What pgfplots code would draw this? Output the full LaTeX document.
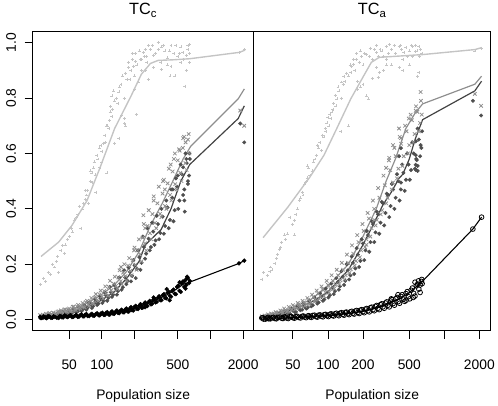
\documentclass[border=0pt]{standalone}
\usepackage{fontspec}
\setmainfont{Liberation Sans}
\usepackage{pgfplots}
\pgfplotsset{compat=1.18}

\definecolor{lgray}{HTML}{C4C4C4}
\definecolor{mgray}{HTML}{8E8E8E}
\definecolor{dgray}{HTML}{4E4E4E}

\pgfplotsset{
  popframe/.style={
    axis line style={line width=1.4pt},
    tick style={line width=0.9pt, black},
    tick align=outside, major tick length=8pt,
    xtick pos=bottom, ytick pos=left,
    xminorticks=false, yminorticks=false,
    xtick={50,100,200,500,1000,2000},
    ticklabel style={font=\fontsize{14}{16}\selectfont},
    xticklabel style={anchor=base, yshift=-31pt},
    xlabel={Population size},
    xlabel style={font=\fontsize{14}{16}\selectfont, anchor=base,
      at={(axis description cs:0.5,0)}, yshift=-70pt},
    title style={font=\fontsize{16.5}{18}\selectfont, anchor=base,
      at={(axis description cs:0.5,1)}, yshift=11pt},
  },
  lpts/.style={only marks, mark=+, mark size=1.5pt, lgray, mark options={line width=0.5pt}},
  lline/.style={no marks, lgray, line width=1.4pt},
  mpts/.style={only marks, mark=x, mark size=2.5pt, mgray, mark options={line width=0.8pt}},
  mline/.style={no marks, mgray, line width=1.2pt},
  dpts/.style={only marks, mark=*, mark size=1.8pt, dgray},
  dline/.style={no marks, dgray!85!black, line width=1.2pt},
  bpts/.style={only marks, mark=*, mark size=2pt, black},
  bopen/.style={only marks, mark=o, mark size=2.4pt, black, mark options={line width=0.8pt}},
  bline/.style={no marks, black, line width=1.1pt},
}

\begin{document}
\begin{tikzpicture}
\path (0,0) rectangle (498pt,405pt);

% ---------------- left panel: TC_c ----------------
\begin{axis}[xmode=log, xmin=23, xmax=2500, ymin=-0.04, ymax=1.04,
  scale only axis, anchor=south west, at={(33pt,70pt)}, width=224pt, height=303pt,
  popframe,
  title={TC\textsubscript{c}},
  ytick={0,0.2,0.4,0.6,0.8,1.0},
  yticklabels={0.0,0.2,0.4,0.6,0.8,1.0},
  yticklabel style={rotate=90, anchor=base, yshift=9pt},
  xticklabels={50,100,{},500,{},2000}]

\addplot[lpts] coordinates {
(27.3,.128)(30.3,.139)(33.7,.164)(36.6,.19)(39,.228)(43.3,.267)(46.1,.27)(50.1,.30)(53.4,.317)(55.6,.36)
(65.8,.40)(70,.434)(73,.466)(70,.466)(81.1,.495)(77.8,.537)(86.4,.523)(111,.53)(81,.53)(84,.548)
(90,.594)(100,.608)(104,.637)(106.5,.666)(115.8,.69)(123.3,.733)(119,.75)(123.3,.808)(128,.826)(131,.79)
(143,.822)(152,.737)(162,.726)(162,.708)(170,.868)(176,.91)(195,.915)(203,.932)(226,.94)(217,.858)
(181,.868)(131,.637)(143,.655)(96,.55)(231,.94)(255,.95)(279,.975)(330,1.0)(351,.985)(433,.99)
(533,.985)(644,.993)(618,.975)(556,.964)(433,.915)(424,.88)(351,.904)(267,.868)(533,.929)(580,.843)
(644,.929)(330,.975)(165,.70)(208,.74)(190,.96)(240,.965)(260,.93)(300,.955)(380,.97)(400,.945)
(460,.96)(500,.95)(600,.955)(640,.96)(290,.99)(210,.92)(230,.90)(250,.975)(350,.93)(470,.88)
(600,.90)(120,.77)(140,.78)(110,.70)(95,.62)(60,.38)(45,.24)(35,.20)(40,.17)(64,.33)
(75,.42)(88,.46)(100,.57)(150,.85)(160,.80)(185,.90)(200,.88)(1850,.965)(2050,.975)
(29,.15)(32,.17)(38,.21)(42,.25)(48,.29)(52,.33)(58,.37)(62,.41)(68,.42)(72,.45)
(78,.50)(85,.57)(92,.58)(98,.63)(108,.64)(113,.70)(118,.72)(125,.76)(135,.80)(145,.84)
(155,.88)(165,.89)(175,.93)(190,.94)(205,.96)(220,.97)(245,.95)(270,.99)(310,.96)(370,.99)
(420,.97)(480,.99)(520,.96)(560,.94)(620,.99)(200,.83)(250,.90)(300,.91)(400,.92)};
\addplot[lline] coordinates {
(27.5,.228)(40,.28)(53,.34)(73,.43)(96,.548)(131,.69)(187,.81)(231,.886)(280,.925)(330,.936)
(450,.938)(645,.942)(1850,.965)(2080,.973)};

\addplot[dpts] coordinates {
(27,.006)(28,.011)(30,.009)(31,.014)(33,.012)(35,.017)(37,.013)(40,.020)(42,.016)(44,.025)
(47,.021)(50,.029)(53,.024)(56,.035)(60,.030)(63,.042)(67,.037)(70,.048)(74,.043)(79,.055)
(83,.048)(88,.064)(93,.058)(98,.076)(104,.068)(109,.088)(115,.079)(121,.099)(127,.090)(134,.112)
(141,.103)(148,.130)(156,.117)(164,.152)(172,.140)(181,.172)(190,.158)(200,.196)(210,.183)(221,.226)
(232,.205)(244,.262)(256,.238)(269,.292)(283,.262)(297,.318)(312,.286)(328,.345)(345,.313)(363,.372)
(382,.338)(402,.405)(423,.360)(445,.440)(468,.395)(492,.480)(518,.430)(545,.525)(574,.470)(604,.565)
(635,.520)(580,.39)(575,.43)(600,.58)(640,.60)(500,.52)(450,.47)(620,.50)(560,.55)
(27.5,.011)(29,.006)(30.5,.013)(32,.008)(34,.017)(36,.010)(38.5,.021)(41,.013)(43,.027)(45.5,.017)
(48.5,.032)(51.5,.022)(54.5,.038)(58,.026)(61.5,.045)(65,.031)(68.5,.052)(72,.036)(76.5,.062)(81,.042)
(85.5,.075)(90.5,.053)(95.5,.085)(101,.060)(106.5,.098)(112,.068)(118,.118)(124,.082)(130.5,.124)(137.5,.090)
(144.5,.152)(152,.108)(160,.178)(168,.128)(176.5,.188)(185.5,.138)(195,.215)(205,.150)(215.5,.250)(226.5,.180)
(238,.300)(250,.220)(262.5,.330)(276,.250)(290,.350)(304.5,.270)(320,.375)(336.5,.290)(354,.400)(372.5,.310)
(392,.430)(412.5,.330)(434,.470)(456.5,.355)(480,.510)(505,.400)(531.5,.560)(559.5,.450)(589,.600)(619.5,.490)
(645,.58)(1880,.708)(2045,.64)};
\addplot[mpts] coordinates {
(27,.016)(28,.010)(29,.015)(30,.011)(31,.019)(32,.014)(33,.024)(35,.017)(36,.023)(38,.018)
(40,.030)(41,.024)(43,.027)(45,.036)(47,.029)(49,.036)(51,.031)(54,.046)(56,.035)(59,.048)
(62,.043)(65,.050)(68,.047)(71,.063)(75,.055)(78,.066)(82,.060)(86,.080)(90,.071)(95,.091)
(100,.083)(105,.103)(110,.094)(116,.118)(122,.106)(128,.130)(135,.122)(142,.152)(149,.139)(157,.170)
(165,.157)(174,.195)(183,.176)(193,.214)(203,.197)(214,.250)(225,.236)(237,.296)(250,.275)(263,.338)
(277,.312)(292,.381)(308,.349)(325,.420)(343,.382)(362,.455)(382,.410)(403,.492)(425,.450)(448,.535)
(473,.489)(500,.575)(527,.530)(556,.620)(587,.565)(620,.650)(640,.600)(560,.655)(590,.64)(470,.60)
(520,.61)(430,.56)(380,.47)(300,.43)(250,.33)(241,.377)(366,.50)(200,.26)(150,.19)
(27.5,.009)(28.5,.018)(29.5,.012)(30.5,.021)(31.5,.013)(32.5,.022)(34,.016)(35.5,.025)(37,.017)(39,.028)
(40.5,.021)(42,.033)(44,.024)(46,.037)(48,.027)(50,.040)(52.5,.030)(55,.047)(57.5,.035)(60.5,.053)
(63.5,.040)(66.5,.060)(69.5,.044)(73,.068)(76.5,.050)(80,.078)(84,.057)(88,.092)(92.5,.068)(97.5,.105)
(102.5,.076)(107.5,.120)(113,.086)(119,.140)(125,.098)(131.5,.155)(138.5,.110)(145.5,.178)(153,.128)(161,.200)
(169.5,.140)(178.5,.222)(188,.160)(198,.250)(208.5,.180)(219.5,.290)(231,.210)(243.5,.345)(256.5,.250)(270,.395)
(284.5,.290)(300,.445)(316.5,.330)(334,.480)(352.5,.370)(372,.505)(392.5,.400)(414,.545)(436.5,.430)(460.5,.580)
(486.5,.470)(513.5,.615)(541.5,.500)(571.5,.660)(603.5,.540)(630,.670)
(1880,.755)(2045,.70)};
\addplot[mline] coordinates {
(27,.012)(45,.03)(66,.05)(95,.085)(130,.125)(170,.175)(220,.245)(280,.34)(360,.42)(450,.50)
(560,.58)(658,.626)(1800,.797)(2050,.833)};
\addplot[dline] coordinates {
(27,.008)(45,.022)(66,.038)(95,.066)(130,.10)(170,.15)(220,.21)(251,.27)(351,.325)(433,.40)
(533,.50)(644,.56)(1800,.726)(2050,.772)};

\addplot[bpts] coordinates {
(27,.010)(28,.006)(30,.009)(31,.005)(33,.011)(35,.007)(37,.010)(40,.006)(42,.012)(44,.008)
(47,.011)(50,.014)(53,.009)(56,.013)(60,.010)(63,.016)(67,.012)(70,.017)(74,.013)(79,.018)
(83,.014)(88,.020)(93,.016)(98,.022)(104,.017)(109,.024)(115,.019)(121,.026)(127,.021)(134,.029)
(141,.024)(148,.032)(156,.027)(164,.036)(172,.030)(181,.040)(190,.034)(200,.046)(210,.039)(221,.050)
(232,.043)(244,.057)(256,.050)(269,.063)(283,.055)(297,.071)(312,.062)(328,.079)(345,.070)(363,.088)
(382,.078)(402,.097)(423,.086)(445,.104)(468,.094)(492,.118)(518,.104)(545,.130)(574,.118)(604,.148)
(635,.132)(395,.11)(420,.07)(520,.135)(580,.14)(600,.125)(610,.155)(300,.08)(250,.045)
(27.5,.005)(29,.012)(30.5,.007)(32,.013)(34,.006)(36,.012)(38.5,.007)(41,.014)(43,.008)(45.5,.015)
(48.5,.009)(51.5,.016)(54.5,.010)(58,.017)(61.5,.011)(65,.019)(68.5,.012)(72,.020)(76.5,.013)(81,.021)
(85.5,.014)(90.5,.023)(95.5,.015)(101,.025)(106.5,.017)(112,.027)(118,.018)(124,.030)(130.5,.021)(137.5,.033)
(144.5,.023)(152,.036)(160,.026)(168,.040)(176.5,.029)(185.5,.045)(195,.033)(205,.050)(215.5,.038)(226.5,.056)
(238,.043)(250,.062)(262.5,.049)(276,.068)(290,.057)(304.5,.075)(320,.064)(336.5,.084)(354,.070)(372.5,.092)
(392,.077)(412.5,.100)(434,.083)(456.5,.108)(480,.092)(505,.123)(531.5,.100)(559.5,.138)(589,.112)(619.5,.150)
(645,.14)(1833,.203)(2045,.213)};
\addplot[bline] coordinates {
(27,.008)(50,.012)(100,.02)(160,.032)(200,.042)(250,.055)(300,.068)(400,.09)(500,.113)(560,.128)
(640,.135)(1833,.203)(2045,.213)};
\end{axis}

% ---------------- right panel: TC_a ----------------
\begin{axis}[xmode=log, xmin=23, xmax=2500, ymin=-0.04, ymax=1.04,
  scale only axis, anchor=south west, at={(257pt,70pt)}, width=240pt, height=303pt,
  popframe,
  title={TC\textsubscript{a}},
  ytick=\empty,
  xticklabels={50,100,200,500,{},2000}]

\addplot[lpts] coordinates {
(27,.146)(31.6,.174)(33,.18)(34.9,.203)(37,.235)(38.4,.253)(42.4,.306)(45,.31)(51.5,.306)(49.5,.345)
(51.5,.359)(54.6,.40)(56.8,.43)(66.4,.512)(73,.537)(68,.548)(66.4,.555)(79,.594)(81,.63)(89,.666)
(96,.68)(102,.70)(106,.726)(108,.75)(117,.772)(119,.797)(124,.826)(131,.858)(137,.879)(157,.893)
(160,.915)(166,.922)(176,.94)(194,.95)(214,.957)(129,.68)(150,.70)(190,.84)(214,.808)(222,.797)
(227,.95)(260,.964)(316,.986)(336,.993)(408,.986)(467,.982)(534,.986)(603,.986)(567,.968)(534,.95)
(440,.94)(408,.911)(276,.893)(270,.875)(603,.893)(590,.879)(60,.46)(85,.64)(100,.73)(112,.78)
(140,.86)(150,.88)(170,.90)(185,.93)(200,.92)(240,.94)(250,.975)(290,.97)(300,.95)(350,.975)
(380,.96)(420,.99)(450,.965)(500,.97)(560,.99)(620,.975)(640,.96)(300,.90)(350,.92)(500,.92)
(240,.87)(180,.86)(130,.80)(95,.69)(75,.57)(63,.49)(58,.44)(47,.37)(40,.28)(30,.16)
(270,.95)(320,.94)(1830,.97)(2090,.98)
(28,.17)(32,.19)(36,.22)(39,.26)(43,.29)(53,.38)(61,.45)(65,.50)(70,.52)(77,.58)
(83,.62)(88,.61)(92,.66)(98,.71)(104,.74)(110,.76)(115,.81)(122,.84)(135,.85)(145,.89)
(155,.92)(165,.94)(175,.96)(190,.97)(205,.96)(230,.98)(260,.99)(280,.975)(330,.96)(370,.99)
(430,.975)(480,.95)(520,.99)(580,.97)(610,.95)(260,.91)(320,.92)(440,.90)(180,.83)(200,.85)};
\addplot[lline] coordinates {
(27.7,.296)(45,.405)(70,.515)(92.5,.594)(119,.69)(157,.797)(202,.879)(236,.929)(276,.947)(651,.957)
(1830,.975)(2090,.982)};

\addplot[dpts] coordinates {
(27,.005)(28,.009)(30,.007)(31,.012)(33,.010)(35,.015)(37,.013)(40,.020)(42,.017)(44,.026)
(47,.022)(50,.033)(53,.028)(56,.040)(60,.036)(63,.048)(67,.043)(70,.058)(74,.052)(79,.070)
(83,.062)(88,.082)(93,.073)(98,.098)(104,.088)(109,.115)(115,.103)(121,.135)(127,.120)(134,.155)
(141,.140)(148,.178)(156,.160)(164,.205)(172,.185)(181,.235)(190,.212)(200,.275)(210,.250)(221,.305)
(232,.280)(244,.345)(256,.315)(269,.380)(283,.350)(297,.420)(312,.385)(328,.450)(345,.410)(363,.470)
(382,.440)(402,.500)(423,.470)(445,.530)(468,.505)(492,.560)(518,.540)(545,.600)(574,.580)(604,.650)
(635,.620)(568,.644)(626,.63)(568,.594)(568,.559)(568,.541)(424,.619)(408,.59)(424,.495)(580,.576)
(590,.555)(590,.537)
(27.5,.009)(29,.005)(30.5,.013)(32,.008)(34,.018)(36,.011)(38.5,.024)(41,.015)(43,.031)(45.5,.022)
(48.5,.040)(51.5,.028)(54.5,.048)(58,.034)(61.5,.058)(65,.040)(68.5,.068)(72,.048)(76.5,.080)(81,.058)
(85.5,.095)(90.5,.068)(95.5,.112)(101,.080)(106.5,.130)(112,.092)(118,.150)(124,.108)(130.5,.175)(137.5,.125)
(144.5,.200)(152,.145)(160,.228)(168,.165)(176.5,.258)(185.5,.190)(195,.290)(205,.215)(215.5,.320)(226.5,.245)
(238,.355)(250,.280)(262.5,.390)(276,.310)(290,.425)(304.5,.340)(320,.455)(336.5,.370)(354,.490)(372.5,.400)
(392,.525)(412.5,.430)(434,.560)(456.5,.465)(480,.600)(505,.505)(531.5,.640)(559.5,.545)(589,.690)(619.5,.590)
(645,.68)(1760,.79)(2070,.737)};
\addplot[mpts] coordinates {
(27,.012)(28,.007)(29,.013)(30,.010)(31,.017)(32,.013)(33,.020)(35,.016)(36,.025)(38,.020)
(40,.030)(41,.024)(43,.034)(45,.030)(47,.042)(49,.037)(51,.047)(54,.041)(56,.055)(59,.048)
(62,.062)(65,.055)(68,.072)(71,.063)(75,.082)(78,.072)(82,.095)(86,.085)(90,.110)(95,.098)
(100,.125)(105,.110)(110,.140)(116,.125)(122,.160)(128,.142)(135,.180)(142,.160)(149,.205)(157,.182)
(165,.238)(174,.212)(183,.280)(193,.250)(203,.320)(214,.290)(225,.365)(237,.330)(250,.400)(263,.360)
(277,.440)(292,.395)(308,.485)(325,.440)(343,.540)(362,.495)(382,.590)(403,.545)(425,.635)(448,.590)
(473,.680)(500,.630)(527,.720)(556,.670)(587,.750)(620,.710)(640,.740)(568,.754)(495,.726)(408,.69)
(424,.655)(362,.63)(336,.584)(316,.548)(626,.822)(214,.27)(250,.36)
(27.5,.007)(28.5,.015)(29.5,.009)(30.5,.019)(31.5,.011)(32.5,.022)(34,.014)(35.5,.027)(37,.019)(39,.033)
(40.5,.023)(42,.040)(44,.028)(46,.046)(48,.032)(50,.052)(52.5,.037)(55,.060)(57.5,.044)(60.5,.068)
(63.5,.050)(66.5,.078)(69.5,.056)(73,.090)(76.5,.064)(80,.105)(84,.075)(88,.120)(92.5,.085)(97.5,.140)
(102.5,.098)(107.5,.160)(113,.112)(119,.180)(125,.128)(131.5,.205)(138.5,.145)(145.5,.235)(153,.168)(161,.268)
(169.5,.195)(178.5,.305)(188,.225)(198,.345)(208.5,.262)(219.5,.385)(231,.300)(243.5,.430)(256.5,.340)(270,.475)
(284.5,.380)(300,.520)(316.5,.420)(334,.575)(352.5,.470)(372,.620)(392.5,.510)(414,.660)(436.5,.555)(460.5,.700)
(486.5,.600)(513.5,.740)(541.5,.640)(571.5,.770)(603.5,.680)(630,.790)
(1830,.815)(2070,.772)};
\addplot[mline] coordinates {
(27,.01)(45,.036)(70,.07)(100,.12)(150,.20)(200,.30)(260,.40)(316,.50)(380,.58)(467,.69)
(560,.745)(651,.779)(1830,.85)(2090,.879)};
\addplot[dline] coordinates {
(27,.006)(45,.03)(70,.06)(100,.10)(150,.18)(200,.27)(250,.35)(298,.416)(350,.46)(408,.51)
(440,.525)(500,.58)(560,.65)(651,.722)(1830,.826)(2090,.861)};

\addplot[bopen] coordinates {
(27,.006)(28,.002)(30,.005)(31,.003)(33,.007)(35,.004)(37,.008)(40,.005)(42,.009)(44,.006)
(47,.010)(50,.007)(53,.011)(56,.008)(60,.012)(63,.009)(67,.013)(70,.010)(74,.015)(79,.011)
(83,.016)(88,.012)(93,.018)(98,.014)(104,.019)(109,.015)(115,.021)(121,.017)(127,.023)(134,.019)
(141,.026)(148,.021)(156,.028)(164,.023)(172,.031)(181,.026)(190,.034)(200,.029)(210,.038)(221,.032)
(232,.043)(244,.036)(256,.048)(269,.041)(283,.054)(297,.046)(312,.060)(328,.052)(345,.067)(363,.058)
(382,.075)(402,.065)(423,.084)(445,.074)(468,.094)(492,.083)(518,.106)(545,.095)(574,.122)(604,.110)
(635,.138)(560,.135)(600,.14)(620,.125)(540,.08)(470,.07)(400,.09)(350,.075)(640,.145)
(27.5,.007)(29,.002)(30.5,.008)(32,.003)(34,.008)(36,.003)(38.5,.009)(41,.004)(43,.010)(45.5,.004)
(48.5,.011)(51.5,.005)(54.5,.012)(58,.006)(61.5,.013)(65,.007)(68.5,.014)(72,.008)(76.5,.016)(81,.009)
(85.5,.017)(90.5,.010)(95.5,.019)(101,.011)(106.5,.021)(112,.013)(118,.023)(124,.014)(130.5,.025)(137.5,.016)
(144.5,.027)(152,.018)(160,.030)(168,.020)(176.5,.033)(185.5,.022)(195,.036)(205,.025)(215.5,.040)(226.5,.028)
(238,.045)(250,.032)(262.5,.051)(276,.036)(290,.057)(304.5,.041)(320,.064)(336.5,.046)(354,.072)(372.5,.052)
(392,.080)(412.5,.059)(434,.090)(456.5,.066)(480,.101)(505,.075)(531.5,.114)(559.5,.085)(589,.128)(619.5,.098)
(645,.13)(1760,.327)(2090,.37)};
\addplot[bline] coordinates {
(27,.004)(50,.007)(100,.015)(166,.025)(214,.032)(298,.05)(408,.075)(495,.096)(560,.115)(651,.139)
(1760,.327)(2090,.37)};
\end{axis}
\end{tikzpicture}
\end{document}
